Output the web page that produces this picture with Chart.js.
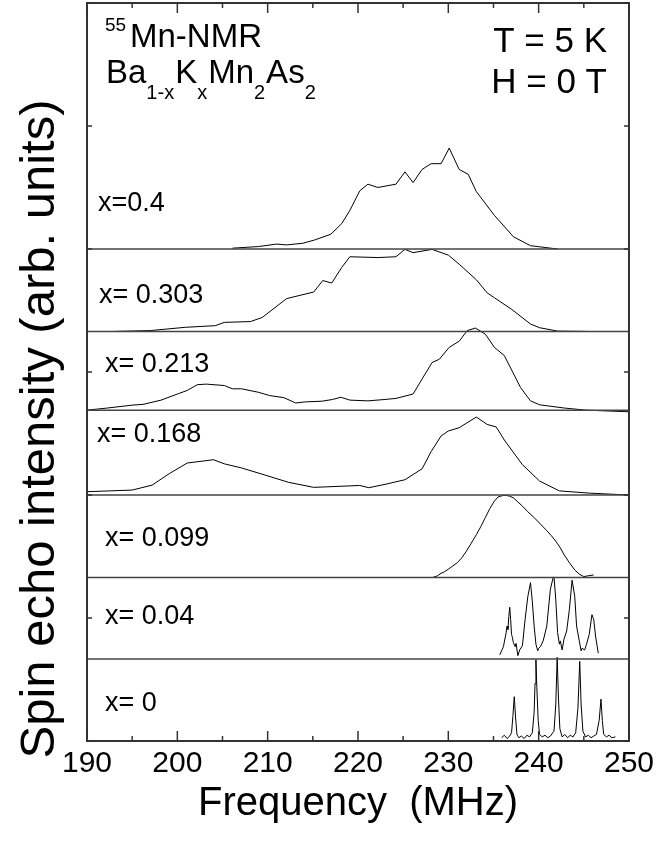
<!DOCTYPE html>
<html><head><meta charset="utf-8">
<script src="https://cdn.jsdelivr.net/npm/chart.js@4.4.1/dist/chart.umd.min.js"></script>
<style>html,body{margin:0;padding:0;background:#fff}#wrap{width:659px;height:852px;position:relative}</style>
</head><body><div id="wrap"><canvas id="c" width="659" height="852"></canvas></div>
<script>
// ---------- data (frequency MHz, intensity arb. units normalised to panel height) ----------
const xTicks = [190, 200, 210, 220, 230, 240, 250];
const sampleLabels = ['x=0.4', 'x= 0.303', 'x= 0.213', 'x= 0.168', 'x= 0.099', 'x= 0.04', 'x= 0'];
const offsets = [4.0, 3.33, 2.69, 2.0, 1.33, 0.667, 0];

const x040 = [[206.1,0.01],[209.0,0.03],[211.0,0.06],[212.1,0.05],[213.9,0.07],[215.2,0.11],[217.0,0.18],[218.2,0.31],[219.1,0.47],[220.2,0.71],[221.1,0.79],[222.2,0.75],[223.2,0.77],[224.2,0.79],[225.2,0.94],[226.1,0.81],[227.1,0.97],[228.1,1.04],[229.2,1.04],[230.1,1.23],[231.2,0.97],[232.2,0.91],[233.1,0.70],[235.1,0.41],[237.2,0.15],[239.1,0.04],[242.1,0]];
const x0303 = [[193.1,0],[197.0,0.01],[200.9,0.05],[204.2,0.07],[205.2,0.11],[208.1,0.12],[209.4,0.17],[212.1,0.40],[215.1,0.48],[216.1,0.62],[217.1,0.59],[218.2,0.78],[219.1,0.91],[222.2,0.90],[224.2,0.91],[225.2,1.0],[226.1,0.96],[228.2,1.0],[230.0,0.93],[231.2,0.82],[233.1,0.63],[234.3,0.47],[235.1,0.41],[237.0,0.27],[239.1,0.09],[240.1,0.045],[242.1,0.004],[245.2,0]];
const x0213 = [[190,0],[192.3,0.026],[195.0,0.061],[196.2,0.07],[198.2,0.122],[200.1,0.2],[201.1,0.24],[202.2,0.31],[203.2,0.317],[205.2,0.3],[206.1,0.26],[207.1,0.26],[209.0,0.217],[210.2,0.178],[211.8,0.152],[213.1,0.087],[214.1,0.1],[216.0,0.109],[217.2,0.13],[218.1,0.157],[219.1,0.122],[221.1,0.113],[223.0,0.13],[224.2,0.143],[226.1,0.196],[227.1,0.38],[228.2,0.58],[229.0,0.62],[230.1,0.765],[231.2,0.84],[232.1,0.97],[233.0,1.0],[234.1,0.926],[235.1,0.765],[236.2,0.665],[238.0,0.274],[239.1,0.113],[240.1,0.065],[242.8,0.026],[245.2,0.0],[250,-0.02]];
const x0168 = [[190,0.04],[195.0,0.06],[197.2,0.12],[199.1,0.26],[201.1,0.39],[204.0,0.43],[205.2,0.38],[207.1,0.33],[209.8,0.24],[212.3,0.155],[215.1,0.093],[220.2,0.116],[221.2,0.089],[223.0,0.13],[225.2,0.186],[227.1,0.32],[228.1,0.53],[229.2,0.72],[230.0,0.78],[231.2,0.82],[233.1,0.95],[234.3,0.86],[235.3,0.83],[236.2,0.67],[238.2,0.37],[240.1,0.17],[242.3,0.05],[245.6,0.023],[250,0]];
const x0099 = [[228.3,0],[228.8,0.02],[229.2,0.05],[229.6,0.07],[230.0,0.1],[230.5,0.14],[231.0,0.18],[231.5,0.24],[232.0,0.32],[232.5,0.41],[233.1,0.52],[233.6,0.62],[234.1,0.73],[234.6,0.84],[235.1,0.93],[235.5,0.98],[235.8,0.99],[236.1,1.0],[236.4,1.0],[236.8,0.99],[237.2,0.97],[237.7,0.92],[238.2,0.87],[238.8,0.80],[239.5,0.73],[240.2,0.65],[240.9,0.57],[241.4,0.51],[241.9,0.44],[242.4,0.36],[242.8,0.28],[243.4,0.18],[244.0,0.09],[244.5,0.04],[245.0,0.01],[245.5,0.02],[246.1,0.03]];
const x004 = [[235.7,0.05],[236.1,0.15],[236.4,0.32],[236.5,0.40],[236.6,0.36],[236.7,0.52],[236.8,0.63],[236.9,0.48],[237.0,0.30],[237.1,0.26],[237.2,0.2],[237.4,0.15],[237.5,0.19],[237.7,0.04],[237.9,0.11],[238.2,0.16],[238.5,0.48],[238.8,0.76],[239.1,0.93],[239.3,0.70],[239.5,0.40],[239.7,0.18],[239.9,0.10],[240.0,0.13],[240.2,0.15],[240.5,0.22],[240.9,0.40],[241.3,0.85],[241.6,0.99],[241.7,1.0],[241.9,0.72],[242.1,0.32],[242.3,0.18],[242.4,0.22],[242.6,0.11],[242.8,0.24],[243.1,0.34],[243.4,0.60],[243.7,0.96],[244.0,0.76],[244.2,0.40],[244.5,0.22],[244.7,0.10],[244.8,0.13],[245.1,0.11],[245.3,0.18],[245.6,0.30],[245.9,0.54],[246.1,0.48],[246.3,0.28],[246.6,0.07]];
const x000 = [[235.9,0.04],[236.2,0.07],[236.5,0.03],[236.8,0.06],[237.0,0.1],[237.15,0.3],[237.3,0.54],[237.45,0.28],[237.6,0.08],[237.8,0.04],[238.1,0.06],[238.4,0.03],[238.7,0.07],[239.0,0.05],[239.3,0.1],[239.5,0.35],[239.6,0.7],[239.7,0.99],[239.8,0.65],[239.95,0.25],[240.1,0.08],[240.4,0.05],[240.7,0.07],[241.0,0.04],[241.3,0.06],[241.7,0.12],[241.9,0.45],[242.05,1.02],[242.2,0.5],[242.35,0.15],[242.6,0.05],[242.9,0.08],[243.2,0.04],[243.5,0.07],[243.8,0.05],[244.1,0.1],[244.35,0.4],[244.55,0.97],[244.7,0.45],[244.9,0.12],[245.2,0.05],[245.5,0.07],[245.8,0.04],[246.1,0.06],[246.4,0.08],[246.7,0.25],[246.9,0.51],[247.05,0.25],[247.2,0.08],[247.5,0.05],[247.8,0.07],[248.1,0.04],[248.5,0.05]];

const series = [x040, x0303, x0213, x0168, x0099, x004, x000];

// ---------- layout / style ----------
const FONT = "'Liberation Sans', Arial, Helvetica, sans-serif";
const PANEL_H = 0.667;           // y-units per stacked panel
const labelLeft = [98, 99, 105, 97, 105, 105, 105];
const labelMid  = [204, 296, 365, 435, 539, 617, 704];
const yTitle = 'Spin echo intensity (arb. units)';

const datasets = [];
offsets.filter(o => o > 0).forEach(o => datasets.push({
  data: [{x: xTicks[0], y: o}, {x: xTicks[xTicks.length - 1], y: o}],
  borderColor: '#444', borderWidth: 1.5, pointRadius: 0
}));
series.forEach((s, k) => datasets.push({
  data: s.map(p => ({x: p[0], y: offsets[k] + p[1] * PANEL_H})),
  borderColor: '#000', borderWidth: 1, pointRadius: 0, tension: 0
}));

function seg(ctx, x1, y1, x2, y2) { ctx.beginPath(); ctx.moveTo(x1, y1); ctx.lineTo(x2, y2); ctx.stroke(); }

const framePlugin = {
  id: 'frame',
  afterDatasetsDraw(chart) {
    const {ctx, chartArea: a, scales: {x, y}} = chart;
    ctx.save();
    ctx.strokeStyle = '#333'; ctx.lineWidth = 2;
    ctx.strokeRect(a.left, a.top, a.right - a.left, a.bottom - a.top);
    ctx.lineWidth = 1.5;
    for (let i = 0; i < xTicks.length; i++) {
      const px = x.getPixelForValue(xTicks[i]);
      seg(ctx, px, a.bottom, px, a.bottom - 10); seg(ctx, px, a.top, px, a.top + 10);
      if (i < xTicks.length - 1) {
        const pm = x.getPixelForValue((xTicks[i] + xTicks[i + 1]) / 2);
        seg(ctx, pm, a.bottom, pm, a.bottom - 5); seg(ctx, pm, a.top, pm, a.top + 5);
      }
    }
    for (let v = y.min; v <= y.max; v++) {
      const py = y.getPixelForValue(v);
      seg(ctx, a.left, py, a.left + 5, py); seg(ctx, a.right, py, a.right - 5, py);
    }
    // texts
    ctx.fillStyle = '#000';
    ctx.textBaseline = 'middle'; ctx.textAlign = 'left';
    ctx.font = '27px ' + FONT;
    sampleLabels.forEach((t, k) => ctx.fillText(t, labelLeft[k], labelMid[k]));
    ctx.textBaseline = 'alphabetic';
    // 55Mn-NMR
    ctx.font = '19px ' + FONT; ctx.fillText('55', 105, 31);
    ctx.font = '33px ' + FONT; ctx.fillText('Mn-NMR', 130, 47);
    // Ba1-xKxMn2As2
    const parts = [['Ba', 0], ['1-x', 1], ['K', 0], ['x', 1], ['Mn', 0], ['2', 1], ['As', 0], ['2', 1]];
    let cx = 106;
    parts.forEach(([t, sub]) => {
      ctx.font = (sub ? '20px ' : '33px ') + FONT;
      ctx.fillText(t, cx, sub ? 99 : 83);
      cx += ctx.measureText(t).width + (sub ? 1 : 0);
    });
    ctx.textAlign = 'right';
    ctx.font = '35px ' + FONT;
    ctx.fillText('T = 5 K', 607, 52);
    ctx.fillText('H = 0 T', 607, 93);
    // y axis title
    ctx.save();
    ctx.translate(40, 429); ctx.rotate(-Math.PI / 2);
    ctx.textAlign = 'center'; ctx.textBaseline = 'middle';
    ctx.font = '49px ' + FONT;
    ctx.fillText(yTitle, 0, 0);
    ctx.restore();
    ctx.restore();
  }
};

new Chart(document.getElementById('c'), {
  type: 'line',
  data: {datasets},
  options: {
    responsive: false, animation: false,
    plugins: {legend: {display: false}, tooltip: {enabled: false}},
    layout: {padding: {top: 3, right: 30, left: 0, bottom: 0}},
    scales: {
      x: {
        type: 'linear', min: 190, max: 250,
        afterBuildTicks: s => { s.ticks = xTicks.map(v => ({value: v})); },
        ticks: {font: {size: 30, family: FONT}, color: '#000', padding: 5, maxRotation: 0, autoSkip: false},
        grid: {display: false, drawTicks: false}, border: {display: false},
        title: {display: true, text: 'Frequency  (MHz)', color: '#000', font: {size: 40, family: FONT}, padding: {top: 0, bottom: 24}},
        afterFit: s => { s.height = 111; }
      },
      y: {
        type: 'linear', min: 0, max: 6,
        ticks: {display: false}, grid: {display: false, drawTicks: false}, border: {display: false},
        title: {display: false},
        afterFit: s => { s.width = 87; }
      }
    }
  },
  plugins: [framePlugin]
});
</script></body></html>
